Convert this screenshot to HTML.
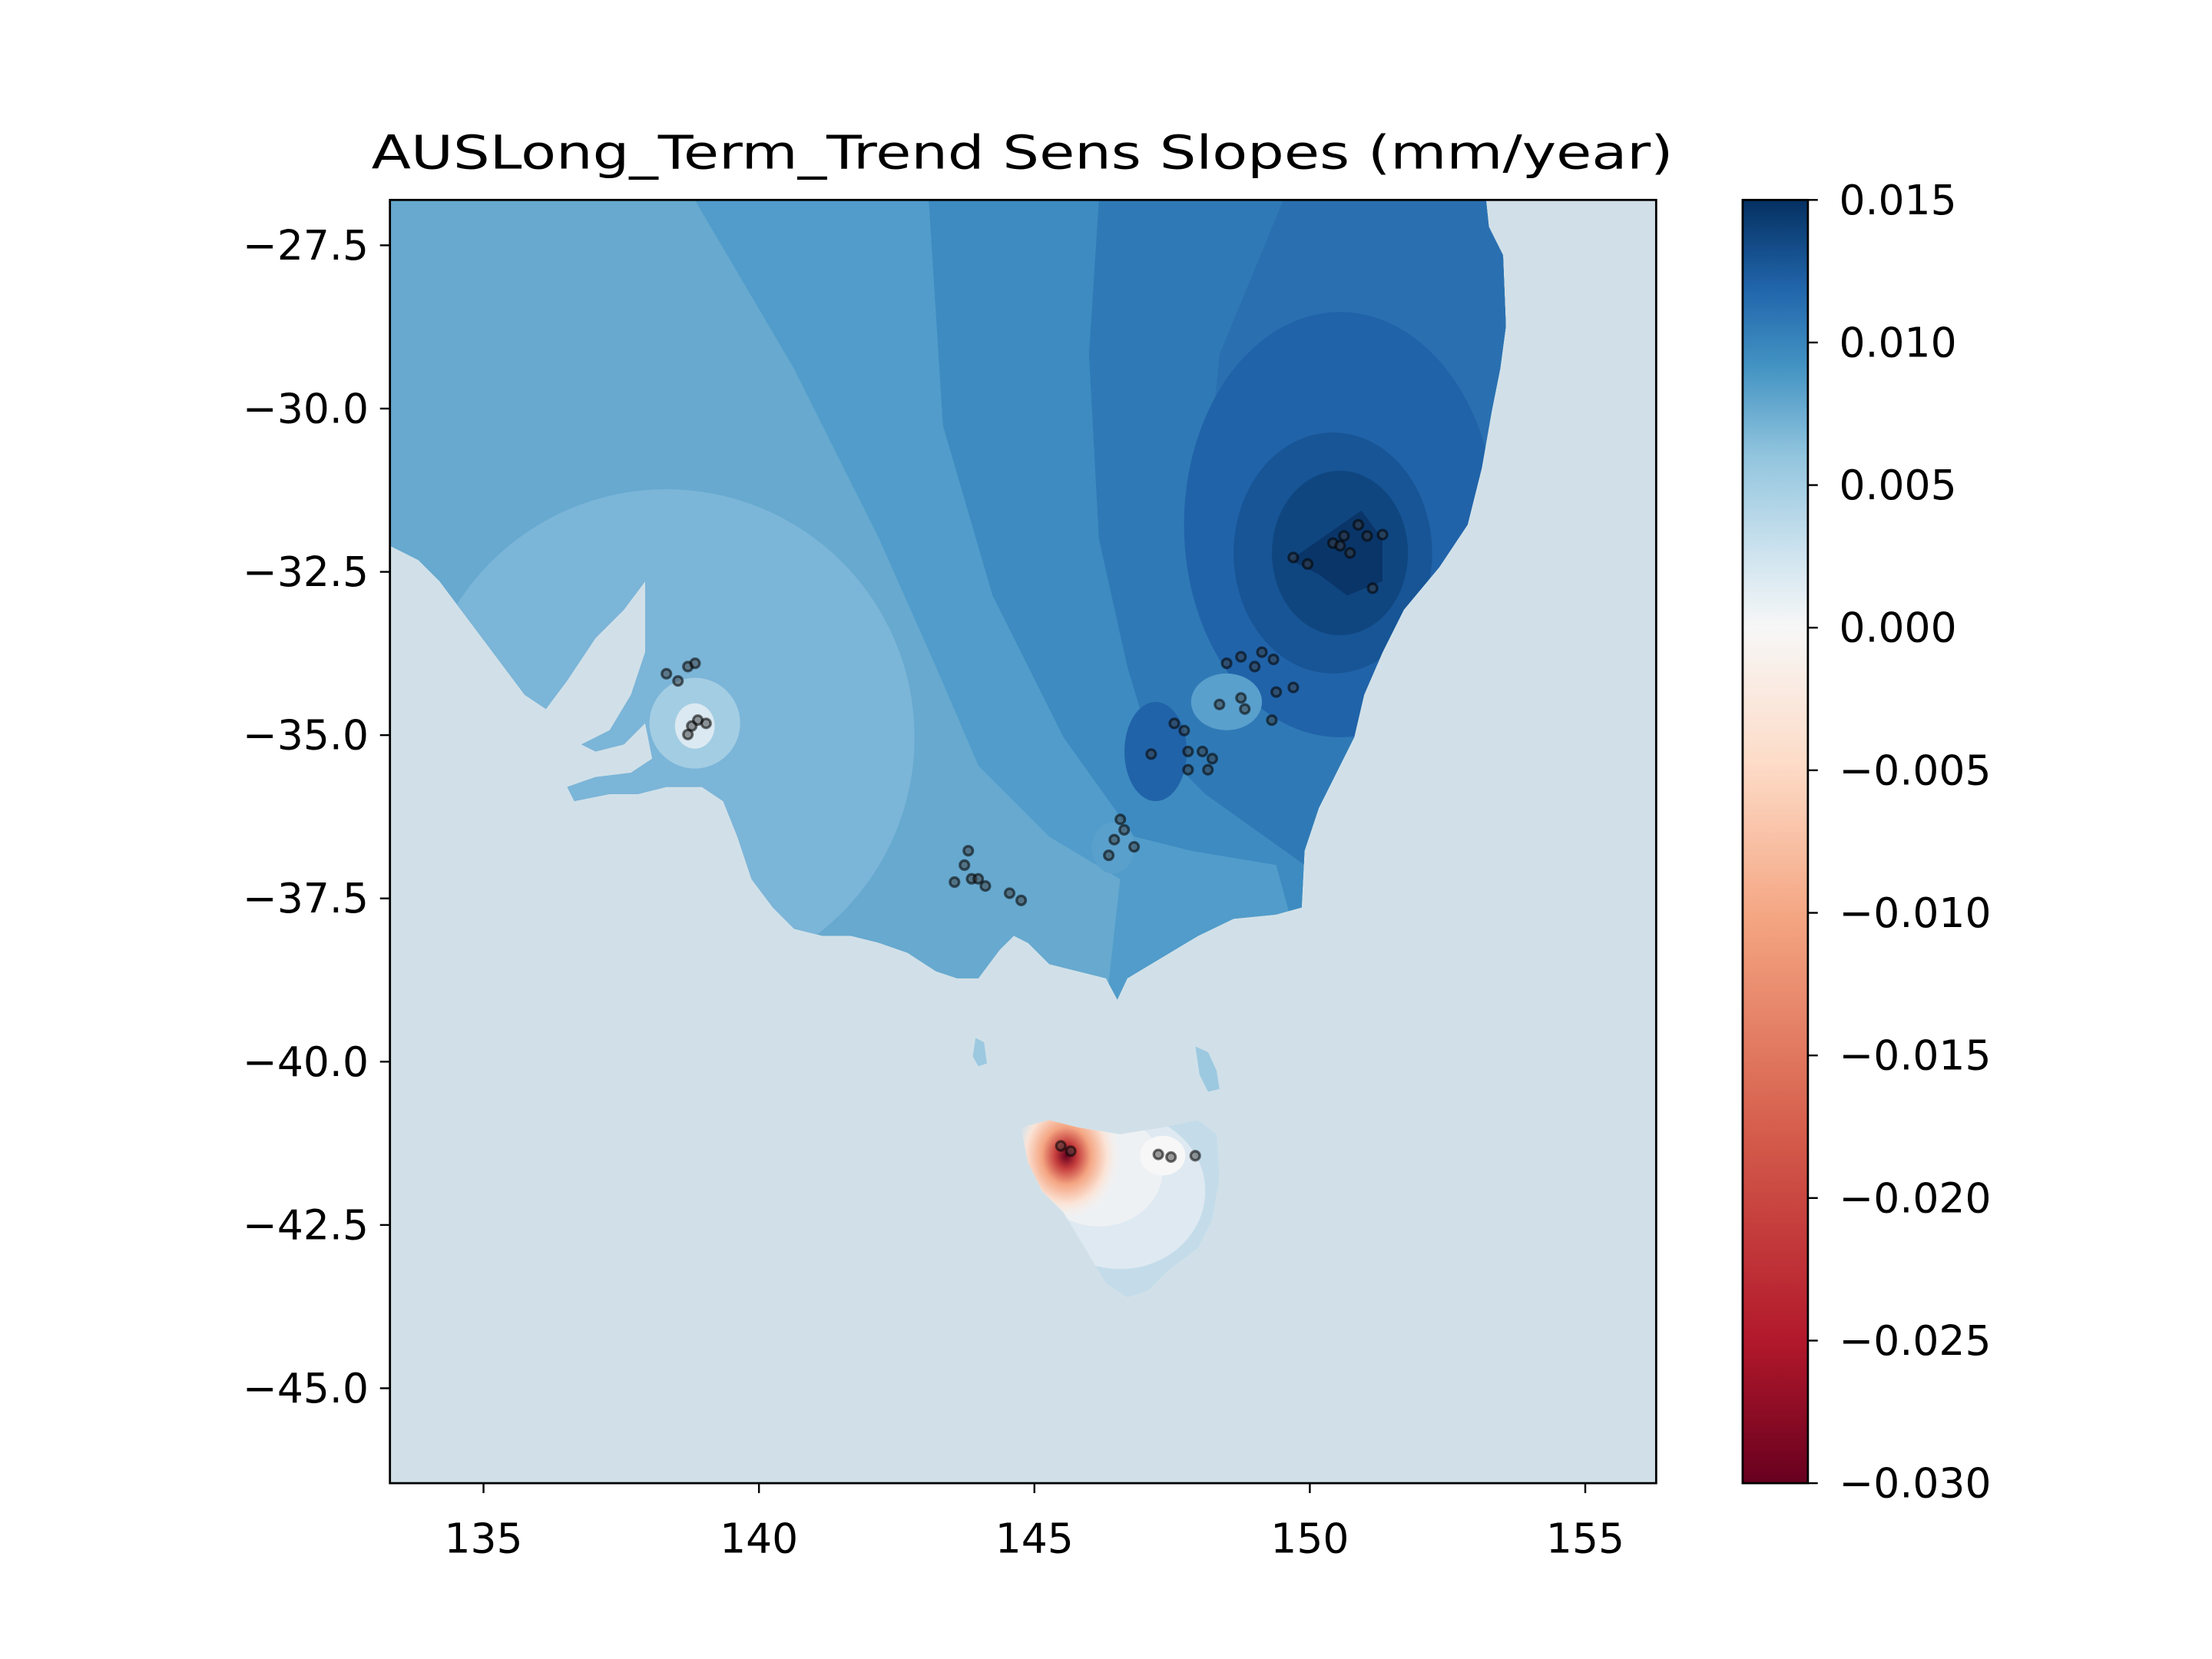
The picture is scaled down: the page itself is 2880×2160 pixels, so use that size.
<!DOCTYPE html>
<html><head><meta charset="utf-8"><style>html,body{margin:0;padding:0;background:#fff}svg{display:block}text{font-family:"DejaVu Sans","Liberation Sans",sans-serif;fill:#000}</style></head>
<body>
<svg id="chart" width="2880" height="2160" viewBox="0 0 1560 1170" xmlns="http://www.w3.org/2000/svg">
<defs>
<clipPath id="axclip"><rect x="275" y="141" width="893" height="905"/></clipPath>
<clipPath id="landclip"><path d="M275,141 L1048,141 L1050,160 L1060,180 L1062,230 L1058,260 L1052,290 L1045,330 L1035,370 L1015,400 L990,430 L975,460 L962,490 L955,520 L945,540 L930,570 L920,600 L918,640 L900,645 L870,648 L845,660 L820,675 L795,690 L788,705 L780,690 L760,685 L740,680 L725,665 L715,660 L705,670 L690,690 L675,690 L660,685 L640,672 L620,665 L600,660 L580,660 L560,655 L545,640 L530,620 L520,590 L510,565 L495,555 L470,555 L450,560 L430,560 L405,565 L400,555 L420,548 L445,545 L460,535 L455,510 L440,525 L420,530 L410,525 L430,515 L445,490 L455,460 L455,410 L440,430 L420,450 L400,480 L385,500 L370,490 L355,470 L340,450 L325,430 L310,410 L295,395 L275,385 Z"/></clipPath>
<clipPath id="tasclip"><path d="M720,795 L740,790 L760,795 L790,800 L820,795 L845,790 L858,800 L860,830 L855,860 L845,880 L825,895 L810,910 L795,915 L780,905 L765,880 L750,855 L735,840 L725,820 Z"/></clipPath>
<radialGradient id="redblob" cx="0.5" cy="0.5" r="0.5">
<stop offset="0" stop-color="#67001f"/><stop offset="0.2" stop-color="#c43c3c"/><stop offset="0.45" stop-color="#f4a582"/><stop offset="0.75" stop-color="#fbe3d6"/><stop offset="1" stop-color="#f5f1ef" stop-opacity="0"/></radialGradient>
<linearGradient id="cbar" x1="0" y1="1" x2="0" y2="0">
<stop offset="0" stop-color="#67001f"/><stop offset="0.11" stop-color="#b2182b"/><stop offset="0.28" stop-color="#d6604d"/><stop offset="0.44" stop-color="#f4a582"/><stop offset="0.56" stop-color="#fddbc7"/><stop offset="0.667" stop-color="#f7f7f7"/><stop offset="0.72" stop-color="#d1e5f0"/><stop offset="0.8" stop-color="#92c5de"/><stop offset="0.87" stop-color="#4393c3"/><stop offset="0.93" stop-color="#2166ac"/><stop offset="1" stop-color="#053061"/></linearGradient>
</defs>
<text x="721" y="119" font-size="33" text-anchor="middle" textLength="918" lengthAdjust="spacingAndGlyphs">AUSLong_Term_Trend Sens Slopes (mm/year)</text>
<g clip-path="url(#axclip)">
<rect x="275" y="141" width="893" height="905" fill="#d1e0e8"/>
<g clip-path="url(#landclip)">
<rect x="275" y="141" width="893" height="905" fill="#67a9cf"/>
<ellipse cx="470" cy="520" rx="175" ry="175" fill="#7bb5d8"/>
<path d="M490,141 L560,260 L620,380 L660,470 L690,540 L740,590 L790,620 L780,710 L1100,710 L1100,141 Z" fill="#519cca"/>
<path d="M655,141 L665,300 L700,420 L750,520 L800,590 L840,600 L900,610 L930,720 L1100,720 L1100,141 Z" fill="#3d8bc1"/>
<path d="M775,141 L768,250 L775,380 L795,470 L810,520 L850,560 L920,610 L940,700 L1100,700 L1100,141 Z" fill="#2f7ab6"/>
<path d="M1100,141 L905,141 L860,250 L850,350 L880,450 L920,500 L990,540 L1100,540 Z" fill="#2a70b0"/>
<ellipse cx="945" cy="370" rx="110" ry="150" fill="#2163a9"/>
<ellipse cx="940" cy="390" rx="70" ry="85" fill="#175596"/>
<ellipse cx="945" cy="390" rx="48" ry="58" fill="#104680"/>
<path d="M910,395 L960,360 L975,380 L975,410 L950,420 L930,405 Z" fill="#0a3568"/>
<ellipse cx="815" cy="530" rx="22" ry="35" fill="#2163a9"/>
<ellipse cx="865" cy="495" rx="25" ry="20" fill="#5aa0cd"/>
<ellipse cx="490" cy="510" rx="32" ry="32" fill="#a3cde3"/>
<ellipse cx="490" cy="512" rx="14" ry="16" fill="#dbe9f2"/>
<ellipse cx="785" cy="598" rx="15" ry="18" fill="#5aa0cd"/>
</g>
<path d="M688,732 L694,735 L696,750 L690,752 L686,745 Z" fill="#9cc9e0"/>
<path d="M843,738 L852,742 L858,755 L860,768 L852,770 L846,758 Z" fill="#9cc9e0"/>
<g clip-path="url(#tasclip)">
<rect x="700" y="780" width="180" height="150" fill="#c4dcea"/>
<ellipse cx="790" cy="840" rx="60" ry="55" fill="#dfe9f1"/>
<ellipse cx="775" cy="825" rx="45" ry="40" fill="#eef1f4"/>
<ellipse cx="820" cy="815" rx="16" ry="14" fill="#f7f7f7"/>
<ellipse cx="752" cy="815" rx="38" ry="45" fill="url(#redblob)"/>
</g>
<g id="dots"></g>
</g>
<rect x="275" y="141" width="893" height="905" fill="none" stroke="#000" stroke-width="1.5"/>
<g id="xticks"></g>
<g id="yticks"></g>
<rect x="1229" y="141" width="46" height="905" fill="url(#cbar)" stroke="#000" stroke-width="1.5"/>
<g id="cticks"></g>
</svg>
<script>
const xTicks=[135,140,145,150,155];
const yTicks=[-27.5,-30.0,-32.5,-35.0,-37.5,-40.0,-42.5,-45.0];
const cTicks=[0.015,0.010,0.005,0.000,-0.005,-0.010,-0.015,-0.020,-0.025,-0.030];
const stationLon=[149.70,149.96,150.42,150.62,150.88,150.73,151.04,151.32,151.14,150.55,148.49,148.75,149.00,149.13,149.34,149.39,149.70,148.36,148.75,148.82,149.31,147.54,147.72,147.12,147.79,148.05,148.23,147.79,148.15,146.56,146.63,146.45,146.81,146.35,143.80,143.73,143.55,143.86,143.98,144.11,144.55,144.76,138.32,138.53,138.71,138.84,138.78,138.89,139.04,138.71,145.66,145.48,147.25,147.48,147.92];
const stationLat=[-32.28,-32.38,-32.06,-31.95,-31.78,-32.21,-31.95,-31.93,-32.75,-32.10,-33.90,-33.80,-33.95,-33.73,-33.84,-34.34,-34.27,-34.53,-34.43,-34.60,-34.77,-34.82,-34.93,-35.29,-35.25,-35.25,-35.36,-35.53,-35.53,-36.29,-36.45,-36.60,-36.71,-36.84,-36.77,-36.99,-37.25,-37.20,-37.20,-37.31,-37.42,-37.53,-34.06,-34.17,-33.95,-33.90,-34.86,-34.77,-34.82,-34.99,-41.37,-41.29,-41.42,-41.46,-41.44];
const NS='http://www.w3.org/2000/svg';
function xs(lon){return 341+(lon-135)*38.85;}
function ys(lat){return 173+(-27.5-lat)*46.06;}
function cs(v){return 141+(0.015-v)/0.045*905;}
function mk(tag,attrs,parent){const e=document.createElementNS(NS,tag);for(const k in attrs)e.setAttribute(k,attrs[k]);parent.appendChild(e);return e;}
function fmt(v,d){return (v<0?'\u2212':'')+Math.abs(v).toFixed(d);}
const dots=document.getElementById('dots');
for(let i=0;i<stationLon.length;i++){
 const c=mk('circle',{cx:xs(stationLon[i]),cy:ys(stationLat[i]),r:3.2,fill:'rgba(60,60,60,0.5)',stroke:'rgba(0,0,0,0.55)','stroke-width':1.8},dots);
 
 
}
const xg=document.getElementById('xticks');
xTicks.forEach(v=>{const x=xs(v);
 mk('line',{x1:x,x2:x,y1:1046,y2:1053,stroke:'#000','stroke-width':1.3},xg);
 const t=mk('text',{x:x,y:1095,'font-size':29,'text-anchor':'middle'},xg);t.textContent=v;
 
 
});
const yg=document.getElementById('yticks');
yTicks.forEach(v=>{const y=ys(v);
 mk('line',{x1:268,x2:275,y1:y,y2:y,stroke:'#000','stroke-width':1.3},yg);
 const t=mk('text',{x:260,y:y+10,'font-size':29,'text-anchor':'end'},yg);t.textContent=fmt(v,1);
 
 
});
const cg=document.getElementById('cticks');
cTicks.forEach(v=>{const y=cs(v);
 mk('line',{x1:1275,x2:1282,y1:y,y2:y,stroke:'#000','stroke-width':1.3},cg);
 const t=mk('text',{x:1297,y:y+10,'font-size':29},cg);t.textContent=fmt(v,3);
 
 
});
</script>
</body></html>
